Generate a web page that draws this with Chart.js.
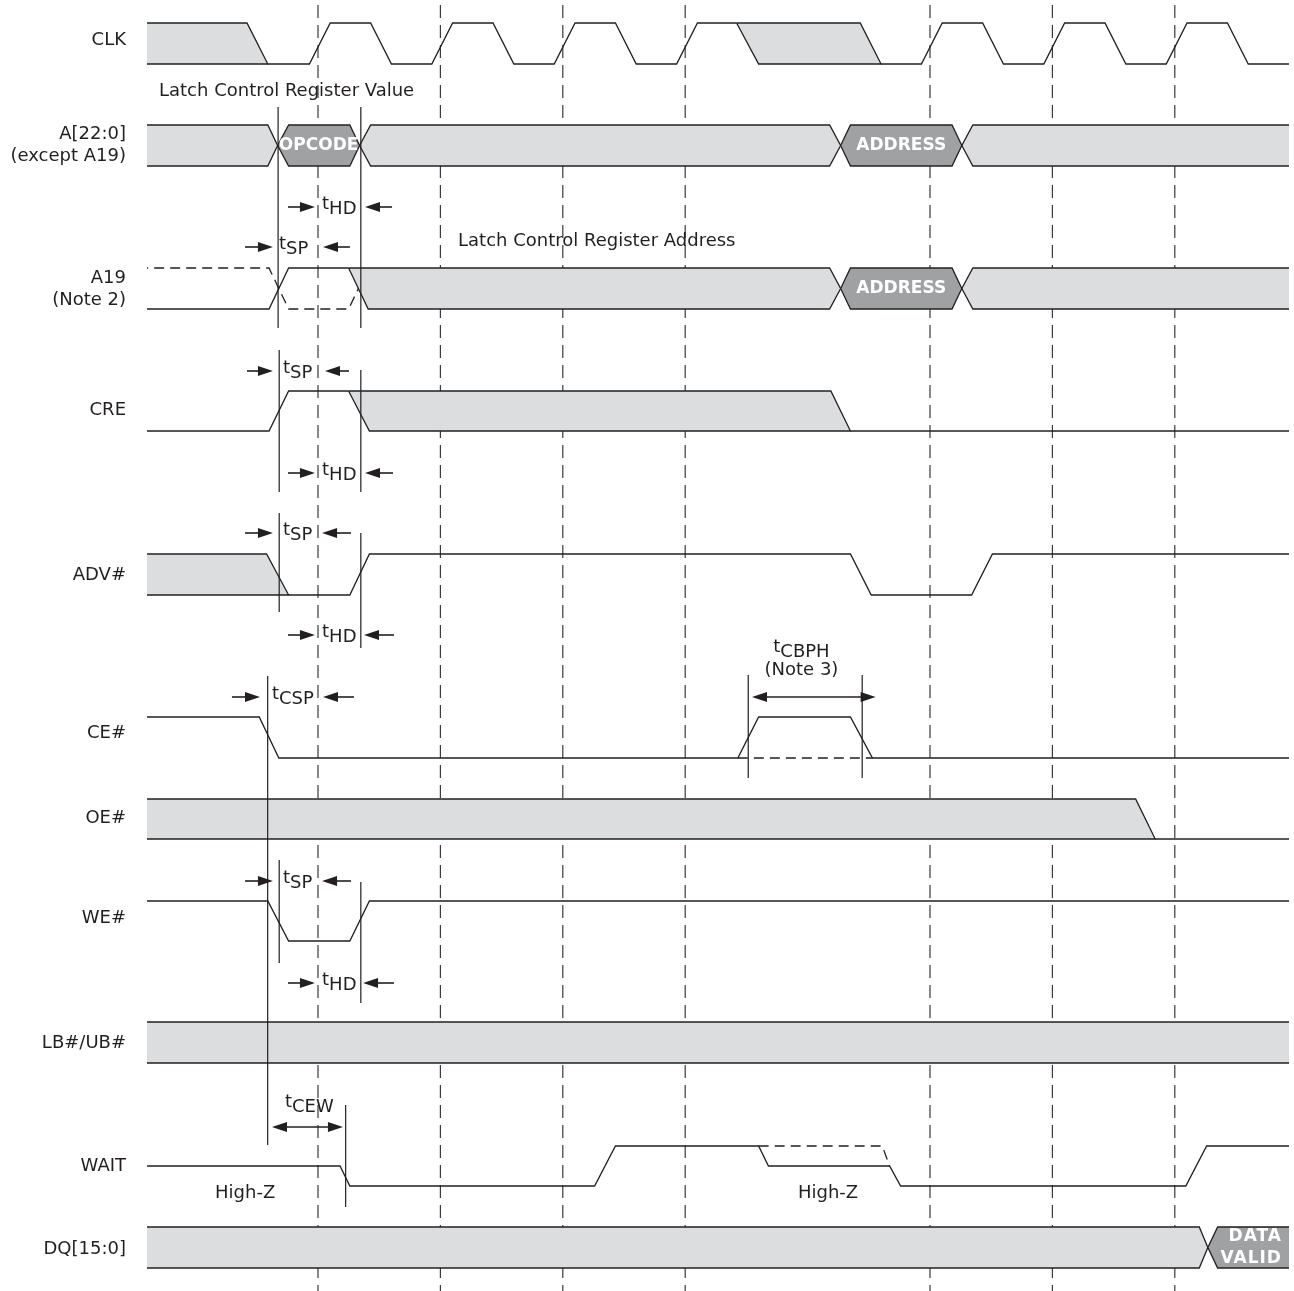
<!DOCTYPE html>
<html>
<head>
<meta charset="utf-8">
<title>Configuration register write - timing</title>
<script src="https://cdn.jsdelivr.net/npm/chart.js@4/dist/chart.umd.min.js"></script>
<style>
  html, body { margin: 0; padding: 0; background: #fff; }
  #wrap { width: 1294px; height: 1291px; }
</style>
</head>
<body>
<div id="wrap"><canvas id="timing"></canvas></div>
<script>
// Colours and font
const FONT = 'DejaVu Sans';
const INK = '#231f20';
const LIGHT = '#dcdddf';
const DARK = '#a0a1a3';

// Time axis in clock periods: rising CLK edges sit at t = 1..8
const T_MIN = -0.397, T_MAX = 8.933;
const EDGES = [1, 2, 3, 4, 6, 7, 8];

// Signal rows (labels on the y axis)
const SIGNAL_NAMES = ['CLK', ['A[22:0]', '(except A19)'], ['A19', '(Note 2)'], 'CRE', 'ADV#', 'CE#', 'OE#', 'WE#', 'LB#/UB#', 'WAIT', 'DQ[15:0]'];

// Waveforms: [t, level]  level 1 = high, 0 = low, 0.5 = mid / High-Z
const CLK_LIGHT = [
  [[-0.6, 1], [0.42, 1], [0.59, 0], [-0.6, 0]],
  [[4.42, 1], [5.43, 1], [5.6, 0], [4.6, 0], [4.42, 1]]
];
const CLK_LINES = [
  [[0.59, 0], [0.93, 0], [1.1, 1], [1.43, 1], [1.6, 0], [1.93, 0], [2.1, 1], [2.43, 1], [2.6, 0], [2.93, 0], [3.1, 1], [3.43, 1], [3.6, 0], [3.93, 0], [4.1, 1], [4.42, 1]],
  [[5.6, 0], [5.93, 0], [6.1, 1], [6.43, 1], [6.6, 0], [6.93, 0], [7.1, 1], [7.43, 1], [7.6, 0], [7.93, 0], [8.1, 1], [8.43, 1], [8.6, 0], [9.3, 0]]
];

const ADDR_LIGHT = [
  [[-0.6, 1], [0.59, 1], [0.67, 0.5], [0.59, 0], [-0.6, 0]],
  [[1.34, 0.5], [1.43, 1], [5.18, 1], [5.27, 0.5], [5.18, 0], [1.43, 0], [1.34, 0.5]],
  [[6.26, 0.5], [6.35, 1], [9.3, 1], [9.3, 0], [6.35, 0], [6.26, 0.5]]
];
const ADDR_DARK = [
  [[0.67, 0.5], [0.76, 1], [1.26, 1], [1.34, 0.5], [1.26, 0], [0.76, 0], [0.67, 0.5]],
  [[5.27, 0.5], [5.35, 1], [6.18, 1], [6.26, 0.5], [6.18, 0], [5.35, 0], [5.27, 0.5]]
];

const A19_LIGHT = [
  [[1.25, 1], [5.18, 1], [5.27, 0.5], [5.18, 0], [1.41, 0], [1.25, 1]],
  [[6.26, 0.5], [6.35, 1], [9.3, 1], [9.3, 0], [6.35, 0], [6.26, 0.5]]
];
const A19_DARK = [
  [[5.27, 0.5], [5.35, 1], [6.18, 1], [6.26, 0.5], [6.18, 0], [5.35, 0], [5.27, 0.5]]
];
const A19_LINES = [[[-0.6, 0], [0.6, 0], [0.76, 1], [1.25, 1]]];
const A19_DASH = [[[-0.6, 1], [0.6, 1], [0.76, 0], [1.25, 0], [1.33, 0.5]]];

const CRE_LIGHT = [[[1.25, 1], [5.19, 1], [5.35, 0], [1.42, 0], [1.25, 1]]];
const CRE_LINES = [[[-0.6, 0], [0.6, 0], [0.76, 1], [1.25, 1]], [[5.35, 0], [9.3, 0]]];

const ADV_LIGHT = [[[-0.6, 1], [0.58, 1], [0.76, 0], [-0.6, 0]]];
const ADV_LINES = [[[0.76, 0], [1.26, 0], [1.42, 1], [5.35, 1], [5.52, 0], [6.34, 0], [6.51, 1], [9.3, 1]]];

const CE_LINES = [[[-0.6, 1], [0.52, 1], [0.68, 0], [4.43, 0], [4.6, 1], [5.35, 1], [5.53, 0], [9.3, 0]]];
const CE_DASH = [[[4.43, 0], [5.53, 0]]];

const OE_LIGHT = [[[-0.6, 1], [7.68, 1], [7.84, 0], [-0.6, 0]]];
const OE_LINES = [[[7.84, 0], [9.3, 0]]];

const WE_LINES = [[[-0.6, 1], [0.59, 1], [0.76, 0], [1.26, 0], [1.42, 1], [9.3, 1]]];

const LB_LIGHT = [[[-0.6, 1], [9.3, 1], [9.3, 0], [-0.6, 0]]];

const WAIT_LINES = [[[-0.6, 0.5], [1.18, 0.5], [1.26, 0], [3.26, 0], [3.43, 1], [4.6, 1], [4.68, 0.5], [5.67, 0.5], [5.76, 0], [8.09, 0], [8.26, 1], [9.3, 1]]];
const WAIT_DASH = [[[4.6, 1], [5.61, 1], [5.67, 0.5]]];

const DQ_LIGHT = [[[-0.6, 1], [8.2, 1], [8.27, 0.5], [8.2, 0], [-0.6, 0]]];
const DQ_DARK = [[[8.27, 0.5], [8.35, 1], [9.3, 1], [9.3, 0], [8.35, 0], [8.27, 0.5]]];

// Timing reference lines (solid verticals): time and vertical extent
const MARK_T = [0.674, 1.35, 0.683, 1.35, 0.683, 1.35, 0.589, 0.683, 1.35, 1.226, 4.515, 5.446];
const MARK_FROM = [107, 107, 350, 370, 513, 533, 676, 860, 882, 1105, 675, 675];
const MARK_TO = [328, 328, 492, 492, 612, 648, 1145, 963, 1003, 1207, 778, 778];

// Setup / hold arrows: right-pointing pair, label, left-pointing pair
const ARROW_NAME = ['HD', 'SP', 'SP', 'HD', 'SP', 'HD', 'CSP', 'SP', 'HD'];
const ARROW_R_FROM = [0.755, 0.404, 0.42, 0.755, 0.404, 0.755, 0.297, 0.404, 0.755];
const ARROW_R_TO = [0.975, 0.632, 0.632, 0.975, 0.632, 0.975, 0.526, 0.632, 0.975];
const ARROW_L_FROM = [1.605, 1.261, 1.253, 1.613, 1.27, 1.621, 1.294, 1.27, 1.621];
const ARROW_L_TO = [1.384, 1.041, 1.057, 1.384, 1.033, 1.376, 1.041, 1.033, 1.368];
const ARROW_LABEL_T = [1.033, 0.681, 0.714, 1.033, 0.714, 1.033, 0.624, 0.714, 1.033];

// Double-headed spans: tCEW and tCBPH
const SPAN_NAME = ['CEW', 'CBPH'];
const SPAN_FROM = [0.624, 4.546];
const SPAN_TO = [1.204, 5.556];

// Row geometry (pixel units of the y scale)
const ROW_TOP = [23, 125, 268, 391, 554, 717, 799, 901, 1022, 1146, 1227];
const ROW_H = [41, 41, 41, 40, 41, 41, 40, 40, 41, 40, 41];
const LABEL_Y = [40, 145, 289, 410, 575, 733, 818, 918, 1043, 1166, 1249];
const ARROW_Y = [207, 247, 371, 473, 533, 635, 697, 881, 983];
const SPAN_Y = [1127, 697];

function toPoints(row, pts) {
  return pts.map(([t, lv]) => ({ x: t, y: ROW_TOP[row] + (1 - lv) * ROW_H[row] }));
}

const datasets = [];

// clock edge guides (behind everything)
EDGES.forEach(t => {
  datasets.push({ data: [{ x: t, y: 5 }, { x: t, y: 1291 }], borderColor: '#3a3a3a', borderWidth: 1.2, borderDash: [13, 7], order: 10 });
});

function addShapes(row, shapes, colour, order) {
  shapes.forEach(s => datasets.push({ data: toPoints(row, s), fill: 'shape', backgroundColor: colour, borderColor: INK, borderWidth: 1.3, order }));
}
function addLines(row, lines, dashed) {
  lines.forEach(l => datasets.push({ data: toPoints(row, l), fill: false, borderColor: INK, borderWidth: 1.3, borderDash: dashed ? [10, 6] : [], order: 2 }));
}

addShapes(0, CLK_LIGHT, LIGHT, 5);
addLines(0, CLK_LINES);
addShapes(1, ADDR_LIGHT, LIGHT, 5);
addShapes(1, ADDR_DARK, DARK, 4);
addShapes(2, A19_LIGHT, LIGHT, 5);
addShapes(2, A19_DARK, DARK, 4);
addLines(2, A19_LINES);
addLines(2, A19_DASH, true);
addShapes(3, CRE_LIGHT, LIGHT, 5);
addLines(3, CRE_LINES);
addShapes(4, ADV_LIGHT, LIGHT, 5);
addLines(4, ADV_LINES);
addLines(5, CE_LINES);
addLines(5, CE_DASH, true);
addShapes(6, OE_LIGHT, LIGHT, 5);
addLines(6, OE_LINES);
addLines(7, WE_LINES);
addShapes(8, LB_LIGHT, LIGHT, 5);
addLines(9, WAIT_LINES);
addLines(9, WAIT_DASH, true);
addShapes(10, DQ_LIGHT, LIGHT, 5);
addShapes(10, DQ_DARK, DARK, 4);

// solid reference markers
MARK_T.forEach((t, i) => {
  datasets.push({ data: [{ x: t, y: MARK_FROM[i] }, { x: t, y: MARK_TO[i] }], borderColor: INK, borderWidth: 1.2, order: 1 });
});

function head(ctx, x, y, dir) {
  ctx.beginPath();
  ctx.moveTo(x, y);
  ctx.lineTo(x - dir * 15, y - 5);
  ctx.lineTo(x - dir * 15, y + 5);
  ctx.closePath();
  ctx.fill();
}
function arrow(ctx, x1, x2, y) {
  const dir = x2 > x1 ? 1 : -1;
  ctx.beginPath();
  ctx.moveTo(x1, y);
  ctx.lineTo(x2 - dir * 10, y);
  ctx.stroke();
  head(ctx, x2, y, dir);
}
function span(ctx, x1, x2, y) {
  ctx.beginPath();
  ctx.moveTo(x1 + 10, y);
  ctx.lineTo(x2 - 10, y);
  ctx.stroke();
  head(ctx, x1, y, -1);
  head(ctx, x2, y, 1);
}
function tLabel(ctx, x, base, sub, align) {
  ctx.font = `18px "${FONT}"`;
  ctx.textBaseline = 'alphabetic';
  ctx.textAlign = 'left';
  const tw = ctx.measureText('t').width;
  const w = tw + ctx.measureText(sub).width;
  const left = align === 'center' ? x - w / 2 : x;
  ctx.fillText('t', left, base - 5);
  ctx.fillText(sub, left + tw, base);
}

const annotate = {
  id: 'annotate',
  afterDatasetsDraw(chart) {
    const { ctx, scales: { x, y } } = chart;
    const px = t => x.getPixelForValue(t);
    const py = v => y.getPixelForValue(v);
    ctx.save();
    ctx.fillStyle = INK;
    ctx.strokeStyle = INK;
    ctx.lineWidth = 1.6;

    // setup / hold arrows
    ARROW_Y.forEach((ay, i) => {
      arrow(ctx, px(ARROW_R_FROM[i]), px(ARROW_R_TO[i]), py(ay));
      arrow(ctx, px(ARROW_L_FROM[i]), px(ARROW_L_TO[i]), py(ay));
      tLabel(ctx, px(ARROW_LABEL_T[i]), py(ay) + 7, ARROW_NAME[i]);
    });

    // tCEW / tCBPH spans
    SPAN_Y.forEach((sy, i) => span(ctx, px(SPAN_FROM[i]), px(SPAN_TO[i]), py(sy)));
    tLabel(ctx, px(0.73), py(1112), SPAN_NAME[0]);
    tLabel(ctx, px(4.95), py(657), SPAN_NAME[1], 'center');
    ctx.font = `18px "${FONT}"`;
    ctx.textAlign = 'center';
    ctx.fillText('(Note 3)', px(4.95), py(675));

    // free text
    ctx.textAlign = 'left';
    ctx.textBaseline = 'middle';
    ctx.fillText('Latch Control Register Value', px(-0.299), py(91));
    ctx.fillText('Latch Control Register Address', px(2.144), py(241));
    ctx.textAlign = 'center';
    ctx.fillText('High-Z', px(0.405), py(1193));
    ctx.fillText('High-Z', px(5.167), py(1193));

    // bus values
    ctx.fillStyle = '#ffffff';
    ctx.font = `bold 17px "${FONT}"`;
    ctx.fillText('OPCODE', px(1.005), py(146));
    ctx.fillText('ADDRESS', px(5.765), py(146));
    ctx.fillText('ADDRESS', px(5.765), py(289));
    ctx.textAlign = 'right';
    ctx.letterSpacing = '1px';
    ctx.fillText('DATA', px(8.875), py(1237));
    ctx.fillText('VALID', px(8.875), py(1259));
    ctx.restore();
  }
};

new Chart(document.getElementById('timing'), {
  type: 'line',
  data: { datasets },
  options: {
    responsive: true,
    maintainAspectRatio: false,
    animation: false,
    events: [],
    layout: { padding: { left: 0, right: 5, top: 0, bottom: 0 } },
    elements: {
      point: { radius: 0, hoverRadius: 0 },
      line: { tension: 0, borderJoinStyle: 'miter', borderCapStyle: 'butt' }
    },
    plugins: { legend: { display: false }, tooltip: { enabled: false } },
    scales: {
      x: { type: 'linear', min: T_MIN, max: T_MAX, display: false },
      y: {
        type: 'linear', min: 0, max: 1291, reverse: true,
        grid: { display: false, drawTicks: false },
        border: { display: false },
        afterBuildTicks: s => { s.ticks = LABEL_Y.map(v => ({ value: v })); },
        afterFit: s => { s.width = 147; s.paddingTop = 0; s.paddingBottom = 0; },
        ticks: {
          autoSkip: false,
          padding: 21,
          color: INK,
          font: { family: FONT, size: 18, lineHeight: 1.22 },
          callback: (v, i) => SIGNAL_NAMES[i]
        }
      }
    }
  },
  plugins: [annotate]
});
</script>
</body>
</html>
